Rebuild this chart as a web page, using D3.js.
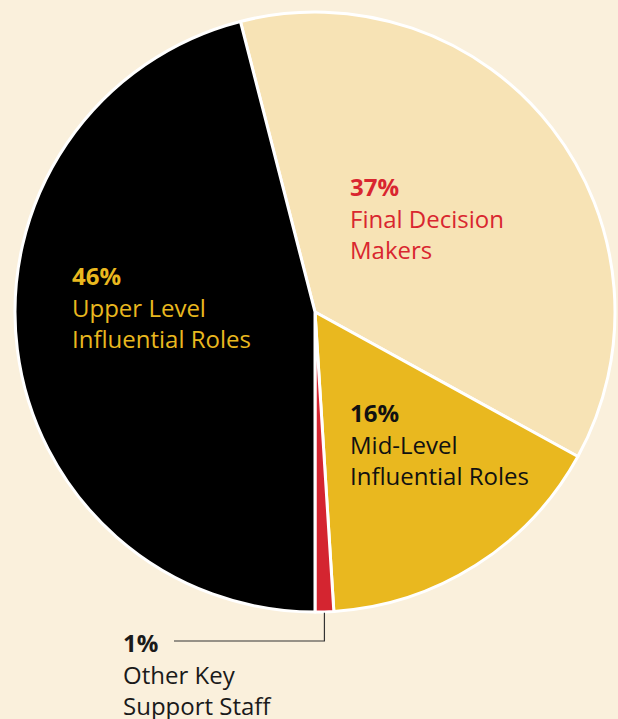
<!DOCTYPE html>
<html>
<head>
<meta charset="utf-8">
<script src="https://cdn.jsdelivr.net/npm/d3@7"></script>
<style>
  html, body { margin: 0; padding: 0; background: #faf0dc; }
  svg { display: block; }
  text { font-family: "Open Sans", "Noto Sans", sans-serif; }
</style>
</head>
<body>
<div id="chart"></div>
<script>
// Slice data (clockwise from the top-right)
const categories = ['Final Decision Makers', 'Mid-Level Influential Roles', 'Other Key Support Staff', 'Upper Level Influential Roles'];
const values = [37, 16, 1, 46];
const labelLines = [
  ['Final Decision', 'Makers'],
  ['Mid-Level', 'Influential Roles'],
  ['Other Key', 'Support Staff'],
  ['Upper Level', 'Influential Roles']
];

const fills = ['#f7e3b5', '#e9b81f', '#d42530', '#000000'];
const textColors = ['#d9262f', '#111111', '#1a1a1a', '#e9b81f'];

const width = 618;
const height = 719;
const cx = 315, cy = 312, radius = 300;

const svg = d3.select('#chart')
  .append('svg')
  .attr('width', width)
  .attr('height', height);

svg.append('rect')
  .attr('width', width)
  .attr('height', height)
  .attr('fill', '#faf0dc');

const g = svg.append('g')
  .attr('transform', `translate(${cx}, ${cy})`);

// first three slices end exactly at the bottom
const total = d3.sum(values);
const firstThree = d3.sum(values.slice(0, 3)) / total;
const start = Math.PI - firstThree * 2 * Math.PI;

const pie = d3.pie()
  .sort(null)
  .value(d => d)
  .startAngle(start)
  .endAngle(start + 2 * Math.PI);

const arcs = pie(values);

const arc = d3.arc()
  .innerRadius(0)
  .outerRadius(radius);

g.selectAll('path.slice')
  .data(arcs)
  .enter()
  .append('path')
  .attr('class', 'slice')
  .attr('d', arc)
  .attr('fill', (d, i) => fills[i])
  .attr('stroke', '#ffffff')
  .attr('stroke-width', 3)
  .attr('stroke-linejoin', 'round');

// label anchor points, relative to pie centre (top-left of text block)
const labelPos = [
  { x: 35, y: -116 },
  { x: 35, y: 110 },
  { x: -192, y: 340 },
  { x: -243, y: -27 }
];
const lineGap = 31.5;

labelPos.forEach((p, i) => {
  const t = g.append('text')
    .attr('x', p.x)
    .attr('y', p.y)
    .attr('fill', textColors[i])
    .attr('font-size', 24);
  t.append('tspan')
    .attr('x', p.x)
    .attr('font-weight', 700)
    .text(values[i] + '%');
  labelLines[i].forEach((line, j) => {
    t.append('tspan')
      .attr('x', p.x)
      .attr('dy', lineGap)
      .text(line);
  });
});

// leader line for the small slice
const small = arcs[2];
const midA = (small.startAngle + small.endAngle) / 2;
const edgeX = Math.sin(midA) * radius;
const edgeY = -Math.cos(midA) * radius;
const elbowY = 329;
g.append('path')
  .attr('d', `M${labelPos[2].x + 51},${elbowY} H${edgeX} V${edgeY + 1}`)
  .attr('fill', 'none')
  .attr('stroke', '#333333')
  .attr('stroke-width', 1.2);
</script>
</body>
</html>
